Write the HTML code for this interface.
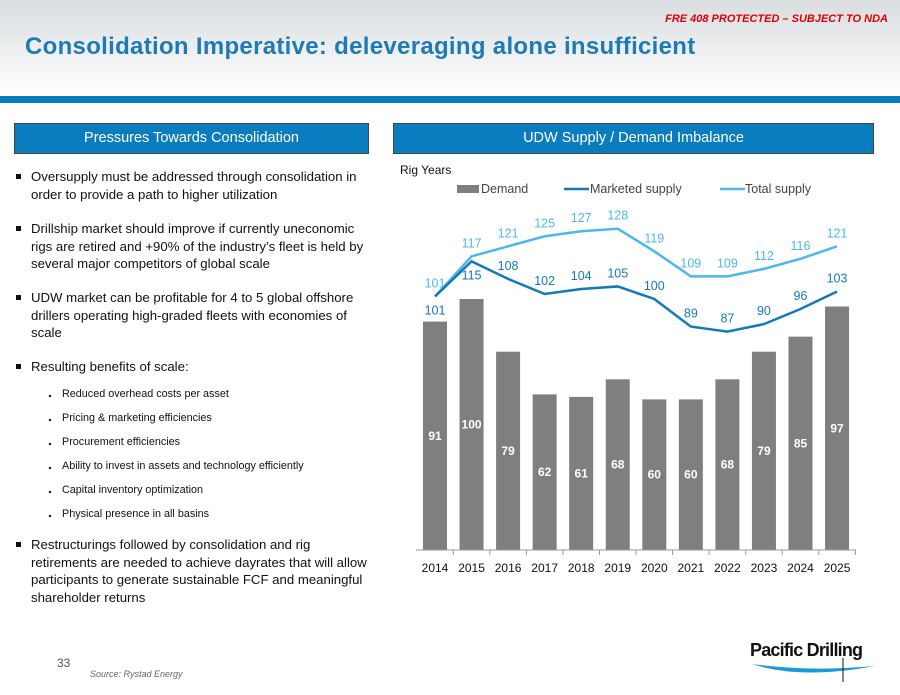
<!DOCTYPE html>
<html><head><meta charset="utf-8">
<style>
body{margin:0;width:900px;height:695px;overflow:hidden;background:#fff;font-family:"Liberation Sans",sans-serif;position:relative}
.hdr{position:absolute;left:0;top:0;width:900px;height:96px;background:linear-gradient(#d9dde0,#ffffff)}
.bar{position:absolute;left:0;top:96px;width:900px;height:7px;background:#0a7dbf}
.nda{position:absolute;right:12px;top:13px;color:#e00000;font-size:11px;font-style:italic;font-weight:bold}
.title{position:absolute;left:25px;top:33px;color:#1f7bb6;font-size:24px;font-weight:bold;letter-spacing:0.3px}
.box{position:absolute;top:123px;height:29px;background:#0a7dbf;border:1px solid #444;color:#fff;font-size:14.5px;text-align:center;line-height:29px}
.m,.s{position:absolute;color:#111;line-height:17.5px}
.m{left:31px;width:345px;font-size:13.2px}
.m:before{content:"";position:absolute;left:-15px;top:6px;width:5px;height:5px;background:#111}
.s{left:62px;font-size:10.8px}
.s:before{content:"";position:absolute;left:-13px;top:9px;width:2px;height:2px;background:#111}
</style></head><body>
<div class="hdr"></div>
<div class="bar"></div>
<div class="nda">FRE 408 PROTECTED – SUBJECT TO NDA</div>
<div class="title">Consolidation Imperative: deleveraging alone insufficient</div>
<div class="box" style="left:14px;width:353px">Pressures Towards Consolidation</div>
<div class="box" style="left:393px;width:479px">UDW Supply / Demand Imbalance</div>
<div>
<div class="m" style="top:168px">Oversupply must be addressed through consolidation in order to provide a path to higher utilization</div>
<div class="m" style="top:220px">Drillship market should improve if currently uneconomic rigs are retired and +90% of the industry’s fleet is held by several major competitors of global scale</div>
<div class="m" style="top:289px">UDW market can be profitable for 4 to 5 global offshore drillers operating high-graded fleets with economies of scale</div>
<div class="m" style="top:358px">Resulting benefits of scale:</div>
<div class="s" style="top:386px">Reduced overhead costs per asset</div>
<div class="s" style="top:410px">Pricing &amp; marketing efficiencies</div>
<div class="s" style="top:434px">Procurement efficiencies</div>
<div class="s" style="top:458px">Ability to invest in assets and technology efficiently</div>
<div class="s" style="top:482px">Capital inventory optimization</div>
<div class="s" style="top:506px">Physical presence in all basins</div>
<div class="m" style="top:536px">Restructurings followed by consolidation and rig retirements are needed to achieve dayrates that will allow participants to generate sustainable FCF and meaningful shareholder returns</div>
</div>
<div style="position:absolute;left:57px;top:656px;font-size:12px;color:#555">33</div>
<div style="position:absolute;left:90px;top:669px;font-size:9px;font-style:italic;color:#666">Source: Rystad Energy</div>
<div style="position:absolute;left:750px;top:640px">
<div style="font-size:18px;font-weight:bold;color:#111;letter-spacing:-0.8px">Pacific Drilling</div>
<svg width="130" height="30" style="position:absolute;left:0;top:18px"><path d="M2 6 Q50 22 125 8 Q60 14 2 6Z" fill="#1a9ad6"/><line x1="93" y1="0" x2="93" y2="24" stroke="#111"/></svg>
</div>
<svg id="chart" width="900" height="695" style="position:absolute;left:0;top:0"></svg>
<script>
const years=["2014","2015","2016","2017","2018","2019","2020","2021","2022","2023","2024","2025"];
const demand=[91,100,79,62,61,68,60,60,68,79,85,97];
const marketed=[101,115,108,102,104,105,100,89,87,90,96,103];
const total=[101,117,121,125,127,128,119,109,109,112,116,121];
const svg=document.getElementById('chart');const NS='http://www.w3.org/2000/svg';
const x=i=>435+i*36.55, y=v=>550-v*2.51;
function el(t,a,txt){const e=document.createElementNS(NS,t);for(const k in a)e.setAttribute(k,a[k]);if(txt!=null)e.textContent=txt;svg.appendChild(e);return e;}
let e=el('text',{x:400,y:174,'font-size':12,fill:'#111'},'Rig Years');


demand.forEach((v,i)=>{
 let b=el('rect',{x:x(i)-12,y:y(v),width:24,height:v*2.51,fill:'#7f7f7f'});
 
 
 let t=el('text',{x:x(i),y:y(v/2)+4,'font-size':12,'font-weight':'bold','text-anchor':'middle',fill:'#fff'},v);
 
 
 let yl=el('text',{x:x(i),y:572,'font-size':12,'text-anchor':'middle',fill:'#111'},years[i]);
 
 
 let tk=el('line',{x1:x(i)+18.3,x2:x(i)+18.3,y1:550,y2:555,stroke:'#999'});
 
 
});
let ax=el('line',{x1:416,x2:856,y1:550,y2:550,stroke:'#999'});


function series(arr,col,name,below){
 let p=el('polyline',{points:arr.map((v,i)=>x(i)+','+y(v)).join(' '),fill:'none',stroke:col,'stroke-width':2.5});
 
 
 arr.forEach((v,i)=>{
  const dy=below(i)?18:-9;
  let t=el('text',{x:x(i),y:y(v)+dy,'font-size':12.5,'text-anchor':'middle',fill:col},v);
  
  
 });
}
series(total,'#4db8ec','total-supply',i=>false);
series(marketed,'#1479b8','marketed-supply',i=>i<2);
let l1=el('rect',{x:457,y:185,width:22,height:8,fill:'#7f7f7f'});


let l1t=el('text',{x:481,y:193,'font-size':12.5,fill:'#444'},'Demand');


let l2=el('line',{x1:564,x2:589,y1:189,y2:189,stroke:'#1479b8','stroke-width':2.5});


let l2t=el('text',{x:590,y:193,'font-size':12.5,fill:'#444'},'Marketed supply');


let l3=el('line',{x1:720,x2:745,y1:189,y2:189,stroke:'#4db8ec','stroke-width':2.5});


let l3t=el('text',{x:745,y:193,'font-size':12.5,fill:'#444'},'Total supply');


</script>
</body></html>
